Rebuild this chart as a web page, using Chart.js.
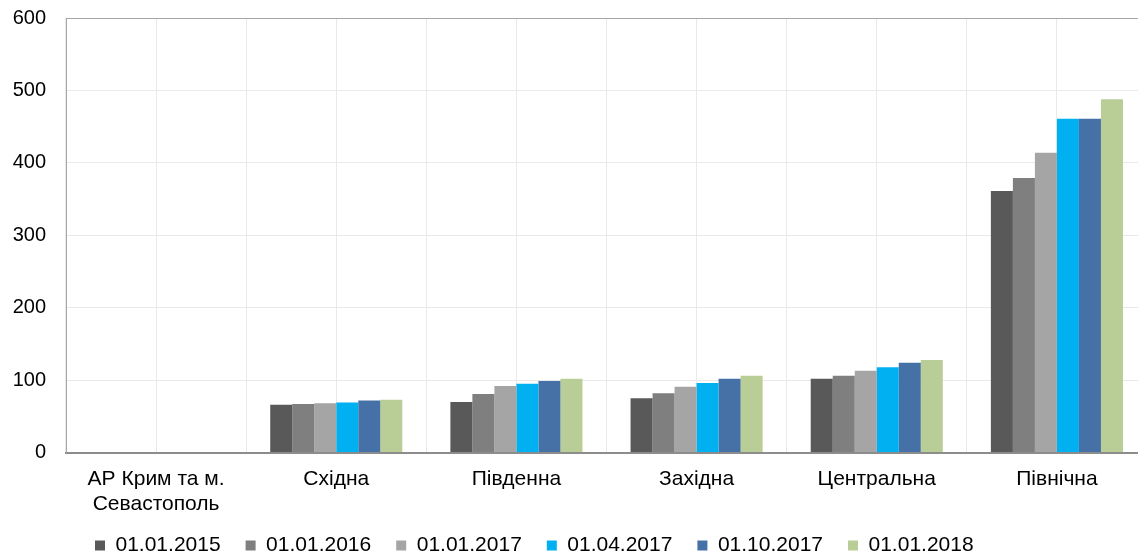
<!DOCTYPE html>
<html>
<head>
<meta charset="utf-8">
<script src="https://cdn.jsdelivr.net/npm/chart.js@4/dist/chart.umd.min.js"></script>
<style>
  html, body { margin: 0; padding: 0; background: #fff; overflow: hidden; }
  #wrap { width: 1160px; height: 553px; position: relative; }
</style>
</head>
<body>
<div id="wrap"><canvas id="regionsChart"></canvas></div>
<script>
// regions (x axis)
const regions = [['АР Крим та м.', 'Севастополь'], 'Східна', 'Південна', 'Західна', 'Центральна', 'Північна'];

// series, one per date
const dates = ['01.01.2015', '01.01.2016', '01.01.2017', '01.04.2017', '01.10.2017', '01.01.2018'];
const v20150101 = [0, 66, 70, 75, 102, 361];
const v20160101 = [0, 67, 81, 82, 106, 379];
const v20170101 = [0, 68, 92, 91, 113, 414];
const v20170401 = [0, 69, 95, 96, 118, 461];
const v20171001 = [0, 72, 99, 102, 124, 461];
const v20180101 = [0, 73, 102, 106, 128, 488];
const seriesValues = [v20150101, v20160101, v20170101, v20170401, v20171001, v20180101];
const seriesColors = ['#595959', '#7f7f7f', '#a5a5a5', '#00b0f0', '#4571a6', '#b9cd96'];

// y ticks
const yMin = 0;
const yMax = 600;
const yStep = 100;

const FONT = "'Liberation Sans', Arial, sans-serif";

// move the legend where the original one sits
const legendShift = {
    id: 'legendShift',
    afterLayout(chart) {
        const lg = chart.legend;
        lg.left = 70;
        lg.top = 510;
        lg.bottom = lg.top + lg.height;
    }
};

document.addEventListener('DOMContentLoaded', function() {
    let ctx = document.getElementById('regionsChart');

    new Chart(ctx, {
        type: 'bar',
        data: {
            labels: regions,
            datasets: dates.map((d, i) => ({
                label: d,
                data: seriesValues[i],
                backgroundColor: seriesColors[i],
                borderWidth: 0,
                categoryPercentage: 0.733,
                barPercentage: 1.0
            }))
        },
        options: {
            responsive: true,
            maintainAspectRatio: false,
            animation: false,
            layout: {
                padding: { left: 12, right: 13, top: 18, bottom: -34 }
            },
            plugins: {
                tooltip: { enabled: false },
                legend: {
                    display: true,
                    position: 'bottom',
                    align: 'start',
                    labels: {
                        boxWidth: 10,
                        boxHeight: 10,
                        padding: 25,
                        color: '#000',
                        font: { family: FONT, size: 21 }
                    }
                }
            },
            scales: {
                x: {
                    offset: true,
                    grid: { offset: true, color: '#e9e9e9', lineWidth: 1, drawTicks: false },
                    border: { display: true, color: '#8c8c8c', width: 2 },
                    ticks: {
                        color: '#000',
                        padding: 14,
                        maxRotation: 0,
                        autoSkip: false,
                        font: { family: FONT, size: 21 }
                    }
                },
                x2: {
                    type: 'category',
                    position: 'bottom',
                    offset: true,
                    grid: { offset: false, color: '#e9e9e9', lineWidth: 1, drawTicks: false },
                    border: { display: false },
                    ticks: { display: false }
                },
                y: {
                    min: yMin,
                    max: yMax,
                    ticks: {
                        stepSize: yStep,
                        color: '#000',
                        padding: 20,
                        font: { family: FONT, size: 20 }
                    },
                    grid: {
                        drawTicks: false,
                        lineWidth: 1,
                        color: (c) => (c.tick && c.tick.value === yMax) ? '#a6a6a6' : '#e9e9e9'
                    },
                    border: { display: true, color: '#a6a6a6', width: 1 },
                    afterFit(scale) {
                        scale.width = 54;
                        scale.paddingTop = 0;
                        scale.paddingBottom = 0;
                    }
                }
            }
        },
        plugins: [legendShift]
    });
});
</script>
</body>
</html>
